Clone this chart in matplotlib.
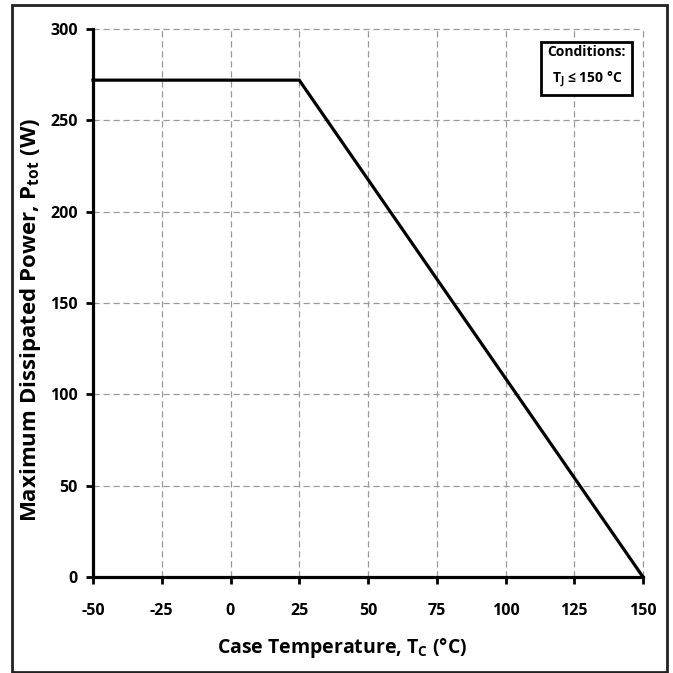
import matplotlib.pyplot as plt
from matplotlib.patches import Rectangle

plt.rcParams['font.family'] = ['Open Sans', 'DejaVu Sans']
plt.rcParams['font.weight'] = 'bold'
plt.rcParams['axes.labelweight'] = 'bold'
plt.rcParams['axes.unicode_minus'] = False

# derating curve: flat up to 25 C, then linear to zero at Tj max
case_temp = [-50, 25, 150]
power = [272, 272, 0]

x_ticks = [-50, -25, 0, 25, 50, 75, 100, 125, 150]
y_ticks = [0, 50, 100, 150, 200, 250, 300]

fig = plt.figure(figsize=(6.73, 6.73), dpi=100)
ax = fig.add_axes([93 / 673, 1 - 577 / 673, 550 / 673, 548 / 673])

ax.plot(case_temp, power, color='black', lw=2.3, solid_joinstyle='miter', zorder=3, clip_on=False)

ax.set_xlim(-50, 150)
ax.set_ylim(0, 300)
ax.set_xticks(x_ticks)
ax.set_yticks(y_ticks)
ax.grid(True, color='#999999', ls=(0, (5, 3)), lw=0.9)
for gl in ax.get_xgridlines() + ax.get_ygridlines():
    gl.set_clip_on(False)

for side in ['top', 'right']:
    ax.spines[side].set_visible(False)
for side in ['left', 'bottom']:
    ax.spines[side].set_linewidth(2.3)
ax.tick_params(direction='out', length=5, width=2, labelsize=11.5, pad=14)
ax.tick_params(axis='y', pad=6)

ax.set_xlabel('Case Temperature, T$_{\\mathregular{C}}$ (°C)', fontsize=14, va='center')
ax.set_ylabel('Maximum Dissipated Power, P$_{\\mathregular{tot}}$ (W)', fontsize=16, va='center')
ax.xaxis.set_label_coords(0.453, -0.13)
ax.yaxis.set_label_coords(-0.113, 0.469)

# conditions box in the upper right corner
ax.text(0.898, 0.931, 'Conditions:\nT$_{\\mathregular{J}}$ ≤ 150 °C', transform=ax.transAxes,
        ha='center', va='center', fontsize=10, linespacing=1.8,
        bbox=dict(boxstyle='square,pad=0.45', fc='white', ec='black', lw=2))

# outer frame around the whole figure
fig.patches.append(Rectangle((12 / 673, 1 / 673), 655 / 673, 667 / 673, transform=fig.transFigure,
                             fill=False, ec='#222222', lw=2))

fig.savefig('out.png', dpi=100)
